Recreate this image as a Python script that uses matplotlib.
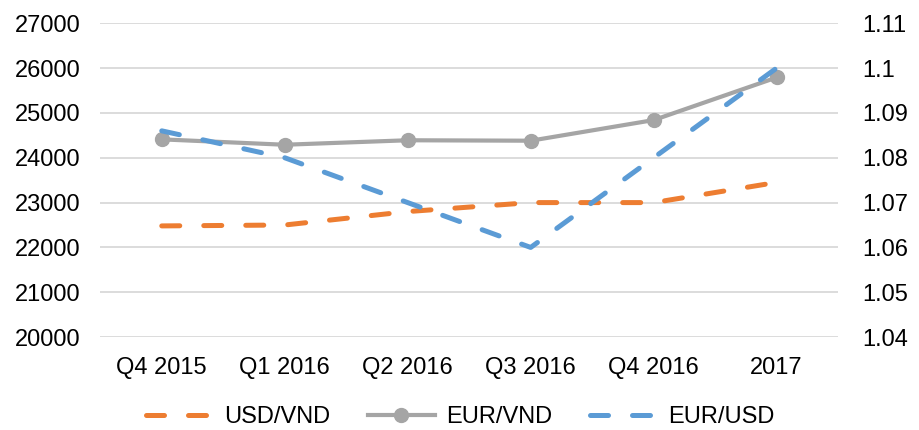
import matplotlib.pyplot as plt
from matplotlib.lines import Line2D

plt.rcParams['font.family'] = ['Liberation Sans', 'DejaVu Sans']

categories = ["Q4 2015", "Q1 2016", "Q2 2016", "Q3 2016", "Q4 2016", "2017"]
usd_vnd = [22480, 22500, 22800, 23000, 23000, 23450]
eur_vnd = [24410, 24290, 24390, 24380, 24840, 25790]
eur_usd = [1.086, 1.080, 1.070, 1.060, 1.080, 1.100]

left_ticks = [20000, 21000, 22000, 23000, 24000, 25000, 26000, 27000]
right_ticks = [1.04, 1.05, 1.06, 1.07, 1.08, 1.09, 1.1, 1.11]
right_labels = ["1.04", "1.05", "1.06", "1.07", "1.08", "1.09", "1.1", "1.11"]

ORANGE = "#ED7D31"
GRAY = "#A5A5A5"
BLUE = "#5B9BD5"
GRID = "#D9D9D9"
FS = 17

fig = plt.figure(figsize=(9.2, 4.3), dpi=100)
ax = fig.add_axes([0.109, 0.216, 0.802, 0.730])
ax2 = ax.twinx()

x = list(range(len(categories)))

ax.plot(x, usd_vnd, color=ORANGE, lw=3.6, dashes=(3.6, 4.8),
        dash_capstyle="round", zorder=3)
ax.plot(x, eur_vnd, color=GRAY, lw=3.0, marker="o", markersize=10,
        zorder=4)
ax2.plot(x, eur_usd, color=BLUE, lw=3.6, dashes=(3.6, 4.8),
         dash_capstyle="round", zorder=3)

ax.set_xlim(-0.5, len(categories) - 0.5)
ax.set_ylim(20000, 27000)
ax2.set_ylim(1.04, 1.11)
ax.set_yticks(left_ticks)
ax.set_yticklabels([str(v) for v in left_ticks])
ax2.set_yticks(right_ticks)
ax2.set_yticklabels(right_labels)
ax.set_xticks(x)
ax.set_xticklabels(categories)

ax.grid(axis="y", color=GRID, lw=1.3, zorder=0)
ax.set_axisbelow(True)
for a in (ax, ax2):
    for s in a.spines.values():
        s.set_visible(False)
    a.tick_params(length=0, labelsize=FS, colors="black")
ax.tick_params(axis="y", pad=14.4)
ax2.tick_params(axis="y", pad=17.3)
ax.tick_params(axis="x", pad=14)

handles = [
    Line2D([], [], color=ORANGE, lw=3.6, dashes=(3.6, 4.8), dash_capstyle="round"),
    Line2D([], [], color=GRAY, lw=3.0, marker="o", markersize=10),
    Line2D([], [], color=BLUE, lw=3.6, dashes=(3.6, 4.8), dash_capstyle="round"),
]
fig.legend(handles, ["USD/VND", "EUR/VND", "EUR/USD"], loc="center",
           bbox_to_anchor=(0.5, 0.03), ncol=3, frameon=False, fontsize=FS,
           handlelength=2.84, columnspacing=1.6, handletextpad=0.47)

fig.savefig("out.png", dpi=100)
